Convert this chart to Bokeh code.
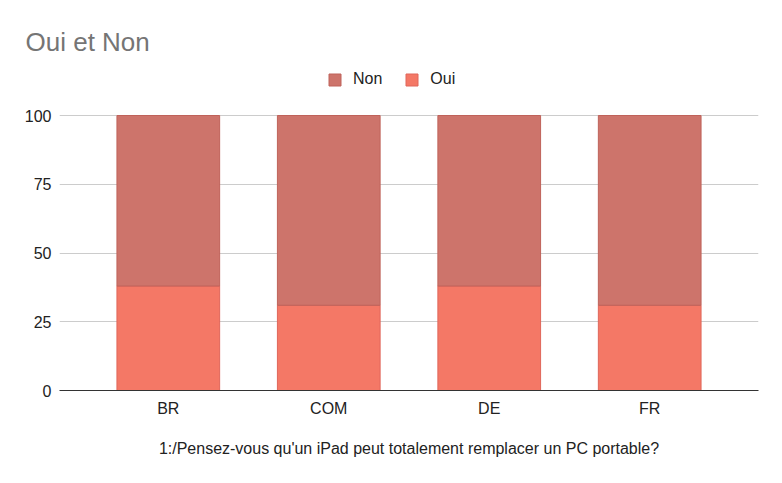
from bokeh.plotting import figure
from bokeh.models import ColumnDataSource, FactorRange, Range1d, Legend, FixedTicker, Title
from bokeh.embed import file_html
from bokeh.resources import INLINE

categories = ["BR", "COM", "DE", "FR"]
oui = [38, 31, 38, 31]
non = [62, 69, 62, 69]
series = ["Oui", "Non"]
colors = ["#f47866", "#cd746b"]
outline = ["#e0665a", "#bf625a"]
yticks = [0, 25, 50, 75, 100]
title_text = "Oui et Non"
xlabel = "1:/Pensez-vous qu'un iPad peut totalement remplacer un PC portable?"

FONT = "Liberation Sans"

source = ColumnDataSource(dict(cat=categories, Oui=oui, Non=non))

# y range extends above 100 to leave room for the legend inside the frame
p = figure(width=774, height=475, output_backend="svg", toolbar_location=None,
           x_range=FactorRange(*categories), y_range=Range1d(0, 120),
           min_border_left=59, min_border_right=16, min_border_top=60, min_border_bottom=85)
p.x_range.range_padding = 0.089
p.outline_line_color = None
p.background_fill_color = "white"
p.border_fill_color = "white"

renderers = p.vbar_stack(series, x="cat", width=0.64, source=source,
                         fill_color=colors, line_color=outline, line_width=1)

p.xgrid.grid_line_color = None
p.ygrid.grid_line_color = "#cccccc"
p.ygrid.grid_line_width = 1

p.yaxis.ticker = FixedTicker(ticks=yticks)
p.yaxis.axis_line_color = None
p.yaxis.major_tick_line_color = None
p.yaxis.minor_tick_line_color = None
p.yaxis.major_tick_out = 0
p.yaxis.minor_tick_out = 0
p.yaxis.major_label_standoff = 8
p.yaxis.major_label_text_font = FONT
p.yaxis.major_label_text_font_size = "16px"
p.yaxis.major_label_text_color = "#222222"

p.xaxis.axis_line_color = "#333333"
p.xaxis.axis_line_width = 1
p.xaxis.major_tick_line_color = None
p.xaxis.minor_tick_line_color = None
p.xaxis.major_tick_out = 0
p.xaxis.minor_tick_out = 0
p.xaxis.major_label_standoff = 9
p.xaxis.major_label_text_font = FONT
p.xaxis.major_label_text_font_size = "16px"
p.xaxis.major_label_text_color = "#222222"
p.xaxis.axis_label = xlabel
p.xaxis.axis_label_text_font = FONT
p.xaxis.axis_label_text_font_size = "16px"
p.xaxis.axis_label_text_font_style = "normal"
p.xaxis.axis_label_text_color = "#222222"
p.xaxis.axis_label_standoff = 20

p.title = Title(text=title_text, align="left", offset=-34, standoff=7,
                text_font=FONT, text_font_size="26px", text_font_style="normal",
                text_color="#757575")

legend = Legend(items=[("Non", [renderers[1]]), ("Oui", [renderers[0]])],
                location=(268, 302), orientation="horizontal",
                glyph_width=15, glyph_height=15, label_standoff=11, spacing=22,
                padding=0, margin=0, border_line_color=None, background_fill_alpha=0,
                label_text_font=FONT, label_text_font_size="16px", label_text_color="#222222",
                label_height=15)
p.add_layout(legend)

open("out.html", "w").write(file_html(p, INLINE))
